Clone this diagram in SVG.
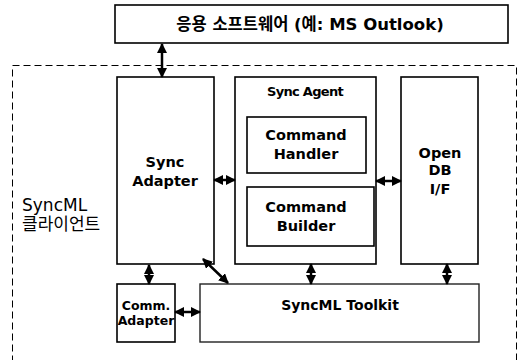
<svg xmlns="http://www.w3.org/2000/svg" width="519" height="360" viewBox="0 0 519 360">
<style>
.box{fill:#fff;stroke:#000;stroke-width:1.6}
.b{font-family:"DejaVu Sans","Noto Sans CJK KR",sans-serif;font-weight:bold;fill:#000;text-anchor:middle}
.r{font-family:"DejaVu Sans","Noto Sans CJK KR",sans-serif;fill:#000}
.c{stroke:#000;stroke-width:2.5;fill:none;marker-start:url(#ah);marker-end:url(#ah)}
</style>
<defs>
<marker id="ah" viewBox="0 0 10 10" refX="9" refY="5" markerWidth="10" markerHeight="10" markerUnits="userSpaceOnUse" orient="auto-start-reverse">
<path d="M0,0 L10,5 L0,10 z" fill="#000"/>
</marker>
</defs>
<rect width="519" height="360" fill="#fff"/>
<g id="client">
<rect x="12.5" y="65.5" width="504" height="310" fill="none" stroke="#000" stroke-width="1" stroke-dasharray="7,4"/>
<text class="r" x="22" y="211" font-size="17">SyncML</text>
<text class="r" x="22" y="230" font-size="17">클라이언트</text>
</g>
<g id="app">
<rect class="box" x="115" y="5" width="393" height="38"/>
<text class="b" x="310" y="30" font-size="16.5">응용 소프트웨어 (예: MS Outlook)</text>
</g>
<g id="sync-adapter">
<rect class="box" x="117" y="77" width="97" height="187"/>
<text class="b" x="165" y="167" font-size="14.5">Sync</text>
<text class="b" x="165" y="186" font-size="14.5">Adapter</text>
</g>
<g id="sync-agent">
<rect class="box" x="235" y="77" width="141" height="187"/>
<text class="b" x="305" y="96" font-size="13" letter-spacing="-0.7">Sync Agent</text>
</g>
<g id="command-handler">
<rect class="box" x="247" y="117" width="119" height="56"/>
<text class="b" x="306" y="140" font-size="14.5">Command</text>
<text class="b" x="306" y="159" font-size="14.5">Handler</text>
</g>
<g id="command-builder">
<rect class="box" x="247" y="187" width="127" height="59"/>
<text class="b" x="306" y="212" font-size="14.5">Command</text>
<text class="b" x="306" y="231" font-size="14.5">Builder</text>
</g>
<g id="open-db">
<rect class="box" x="401" y="77" width="77" height="187"/>
<text class="b" x="440" y="158" font-size="14.5">Open</text>
<text class="b" x="440" y="175" font-size="14.5">DB</text>
<text class="b" x="440" y="194" font-size="14.5">I/F</text>
</g>
<g id="comm-adapter">
<rect class="box" x="117" y="284" width="58" height="58"/>
<text class="b" x="146" y="310" font-size="12.5">Comm.</text>
<text class="b" x="146" y="325" font-size="12.5">Adapter</text>
</g>
<g id="toolkit">
<rect x="200" y="284" width="279" height="58" fill="#fff" stroke="#222" stroke-width="1.4"/>
<text class="b" x="340" y="310" font-size="14">SyncML Toolkit</text>
</g>
<g id="connectors">
<line class="c" x1="162" y1="44" x2="162" y2="77"/>
<line class="c" x1="214" y1="180" x2="235" y2="180"/>
<line class="c" x1="376" y1="181" x2="401" y2="181"/>
<line class="c" x1="149" y1="265" x2="149" y2="284"/>
<line class="c" x1="203" y1="259" x2="228" y2="283"/>
<line class="c" x1="311" y1="264" x2="311" y2="284"/>
<line class="c" x1="447" y1="264" x2="447" y2="284"/>
<line class="c" x1="175" y1="312" x2="200" y2="312"/>
</g>
</svg>
